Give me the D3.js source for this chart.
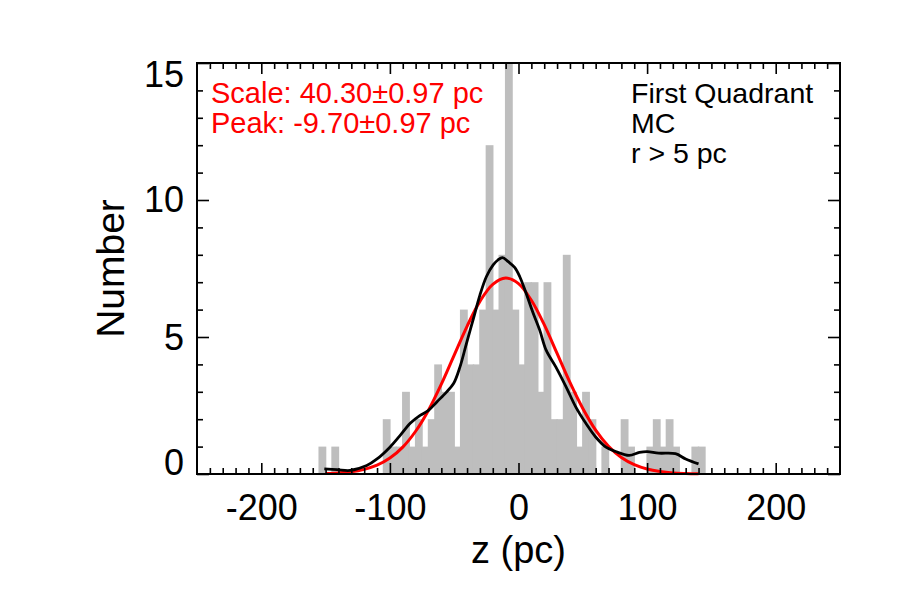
<!DOCTYPE html>
<html>
<head>
<meta charset="utf-8">
<script src="https://cdn.jsdelivr.net/npm/d3@7"></script>
<style>
    body { margin: 0; background: #fff; }
    text { font-family: "Liberation Sans", Arial, Helvetica, sans-serif; }
</style>
</head>
<body>
<div id="chart"></div>
<script>
// histogram: left edge of each 5 pc bin, and the count in it
const binStarts = [-155, -150, -145, -140, -135, -130, -125, -120, -115, -110,
                   -105, -100, -95, -90, -85, -80, -75, -70, -65, -60,
                   -55, -50, -45, -40, -35, -30, -25, -20, -15, -10,
                   -5, 0, 5, 10, 15, 20, 25, 30, 35, 40,
                   45, 50, 55, 60, 65, 70, 75, 80, 85, 90,
                   95, 100, 105, 110, 115, 120, 125, 130, 135, 140];
const counts = [1, 0, 1, 0, 0, 0, 0, 0, 0, 0,
                2, 1, 1, 3, 1, 2, 1, 2, 4, 3,
                3, 1, 6, 4, 4, 6, 12, 6, 8, 15,
                6, 4, 7, 7, 3, 7, 2, 2, 8, 3,
                1, 3, 2, 0, 1, 0, 0, 2, 1, 0,
                0, 1, 2, 1, 2, 1, 0, 0, 1, 1];
const binWidth = 5;

// smoothed distribution (black)
const smoothZ = [-151, -141, -131, -118, -110, -100, -92, -84, -76.5, -70, -63.5, -56, -50.5, -45.5, -40.5, -35, -30, -25, -19.7, -16, -12.5, -8, -3, 1, 6, 11, 16.5, 21.5, 29, 37, 44.5, 52.5, 60, 68, 75.5, 86, 94, 100, 109, 122, 130, 140];
const smoothN = [0.19, 0.16, 0.13, 0.31, 0.55, 0.98, 1.41, 1.86, 2.14, 2.32, 2.63, 2.99, 3.3, 3.91, 4.76, 5.68, 6.53, 7.2, 7.63, 7.81, 7.9, 7.75, 7.54, 7.2, 6.59, 5.92, 5.25, 4.52, 3.91, 3.18, 2.45, 1.84, 1.35, 0.98, 0.82, 0.68, 0.79, 0.82, 0.76, 0.74, 0.55, 0.37];

// fitted profile (red)
const fitZ = [-150, -140, -130, -120, -110, -100, -90, -80, -70, -60, -50, -40, -30, -20, -10, 0, 10, 20, 30, 40, 50, 60, 70, 80, 90, 100, 110, 120, 130, 140];
const fitN = [0.02, 0.04, 0.08, 0.17, 0.32, 0.58, 0.98, 1.56, 2.33, 3.28, 4.34, 5.39, 6.30, 6.92, 7.15, 6.95, 6.34, 5.45, 4.40, 3.34, 2.39, 1.60, 1.01, 0.60, 0.34, 0.18, 0.09, 0.04, 0.02, 0.01];

const xMajor = [-200, -100, 0, 100, 200];
const xMinor = d3.range(-240, 250, 10).filter(v => v % 100 !== 0);
const yMajor = [0, 5, 10, 15];
const yMinor = [1, 2, 3, 4, 6, 7, 8, 9, 11, 12, 13, 14];

const fitText = ["Scale: 40.30\u00b10.97 pc", "Peak: -9.70\u00b10.97 pc"];
const infoText = ["First Quadrant", "MC", "r > 5 pc"];

const W = 900, H = 600;
const margin = { top: 63, right: 60, bottom: 126, left: 197 };
const width = W - margin.left - margin.right;
const height = H - margin.top - margin.bottom;

const svg = d3.select("#chart").append("svg")
    .attr("width", W)
    .attr("height", H);
const g = svg.append("g")
    .attr("transform", `translate(${margin.left}, ${margin.top})`);

const x = d3.scaleLinear().domain([-250, 250]).range([0, width]);
const y = d3.scaleLinear().domain([0, 15]).range([height, 0]);

// bars
g.append("g").selectAll("rect")
    .data(binStarts.map((b, i) => ({ b, n: counts[i] })).filter(d => d.n > 0))
    .join("rect")
    .attr("x", d => x(d.b) - 0.7)
    .attr("width", d => x(d.b + binWidth) - x(d.b) + 1.4)
    .attr("y", d => y(d.n))
    .attr("height", d => y(0) - y(d.n))
    .attr("fill", "#bebebe");

// curves
const line = d3.line().curve(d3.curveCatmullRom.alpha(0.5));
g.append("path")
    .attr("d", line(fitZ.map((z, i) => [x(z), y(fitN[i])])))
    .attr("fill", "none")
    .attr("stroke", "#ff0000")
    .attr("stroke-width", 3);
g.append("path")
    .attr("d", line(smoothZ.map((z, i) => [x(z), y(smoothN[i])])))
    .attr("fill", "none")
    .attr("stroke", "#000")
    .attr("stroke-width", 2.8);

// axes, ticks pointing inward on all four sides
function styleAxis(sel) {
    sel.select(".domain").remove();
    sel.selectAll("line").attr("stroke-width", 1.6);
    sel.selectAll("text")
        .attr("font-size", 36)
        .attr("fill", "#000");
}
const noLabel = () => "";
const plain = d => String(d);

g.append("g").attr("transform", `translate(0, ${height})`)
    .call(d3.axisBottom(x).tickValues(xMajor).tickSize(-11).tickPadding(20).tickFormat(plain))
    .call(styleAxis);
g.append("g").attr("transform", `translate(0, ${height})`)
    .call(d3.axisBottom(x).tickValues(xMinor).tickSize(-6).tickFormat(noLabel))
    .call(styleAxis);
g.append("g")
    .call(d3.axisTop(x).tickValues(xMajor).tickSize(-11).tickFormat(noLabel))
    .call(styleAxis);
g.append("g")
    .call(d3.axisTop(x).tickValues(xMinor).tickSize(-6).tickFormat(noLabel))
    .call(styleAxis);

// first and last y labels are kept inside the axis range
const yLabelShift = { 0: -11, 5: 1, 10: 0, 15: 12 };
g.append("g")
    .call(d3.axisLeft(y).tickValues(yMajor).tickSize(-12).tickPadding(13).tickFormat(plain))
    .call(styleAxis)
    .call(s => s.selectAll("text").attr("y", d => yLabelShift[d]));
g.append("g")
    .call(d3.axisLeft(y).tickValues(yMinor).tickSize(-6).tickFormat(noLabel))
    .call(styleAxis);
g.append("g").attr("transform", `translate(${width}, 0)`)
    .call(d3.axisRight(y).tickValues(yMajor).tickSize(-12).tickFormat(noLabel))
    .call(styleAxis);
g.append("g").attr("transform", `translate(${width}, 0)`)
    .call(d3.axisRight(y).tickValues(yMinor).tickSize(-6).tickFormat(noLabel))
    .call(styleAxis);

// frame
g.append("rect")
    .attr("width", width)
    .attr("height", height)
    .attr("fill", "none")
    .attr("stroke", "#000")
    .attr("stroke-width", 2);

// axis titles
svg.append("text")
    .attr("x", margin.left + width / 2)
    .attr("y", 563)
    .attr("text-anchor", "middle")
    .attr("font-size", 38)
    .text("z (pc)");
svg.append("text")
    .attr("transform", `translate(124, ${margin.top + height / 2}) rotate(-90)`)
    .attr("text-anchor", "middle")
    .attr("font-size", 39)
    .text("Number");

// annotations
g.append("g").selectAll("text")
    .data(fitText)
    .join("text")
    .attr("x", 14)
    .attr("y", (d, i) => 40 + i * 30)
    .attr("font-size", 29)
    .attr("fill", "#ff0000")
    .text(d => d);
g.append("g").selectAll("text")
    .data(infoText)
    .join("text")
    .attr("x", 434)
    .attr("y", (d, i) => 40 + i * 30)
    .attr("font-size", 28.5)
    .attr("fill", "#000")
    .text(d => d);
</script>
</body>
</html>
